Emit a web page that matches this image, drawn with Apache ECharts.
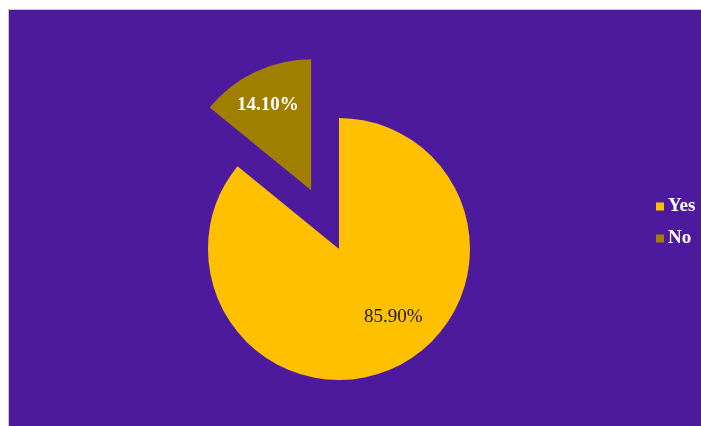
<!DOCTYPE html>
<html>
<head>
<meta charset="utf-8">
<script src="https://cdn.jsdelivr.net/npm/echarts@6/dist/echarts.min.js"></script>
<style>
html,body{margin:0;padding:0;background:#fff;width:701px;height:426px;overflow:hidden;}
#wrap{position:absolute;left:8px;top:9px;width:693px;height:417px;background:#c9c4d6;}
#chart{position:absolute;left:1px;top:1px;width:692px;height:416px;}
</style>
</head>
<body>
<div id="wrap"><div id="chart"></div></div>
<script>
const categories = ['Yes', 'No'];
const values = [85.9, 14.1];
const colors = ['#FFC000', '#A07F00'];

const chart = echarts.init(document.getElementById('chart'), null, {renderer: 'canvas'});
const labelShift = [[25, 6], [-14, -23]];
chart.setOption({
  backgroundColor: '#4E1A9D',
  animation: false,
  legend: {
    orient: 'vertical',
    left: 642,
    top: 182,
    itemWidth: 8,
    itemHeight: 8,
    itemGap: 13,
    icon: 'rect',
    data: categories,
    textStyle: {color: '#ffffff', fontFamily: 'Liberation Serif', fontWeight: 'bold', fontSize: 19, padding: [0,0,0,-1]}
  },
  series: [{
    type: 'pie',
    center: [330, 239],
    radius: 131,
    startAngle: 90,
    clockwise: true,
    selectedMode: 'single',
    selectedOffset: 65,
    avoidLabelOverlap: false,
    label: {
      show: true,
      position: 'inside',
      fontFamily: 'Liberation Serif',
      fontSize: 19,
      formatter: p => p.value.toFixed(2) + '%'
    },
    labelLine: {show: false},
    labelLayout: function (p) {
      const s = labelShift[p.dataIndex];
      return {dx: s[0], dy: s[1]};
    },
    emphasis: {disabled: true},
    data: categories.map((c, i) => ({
      name: c,
      value: values[i],
      selected: i === 1,
      itemStyle: {color: colors[i]},
      label: i === 1 ? {color: '#ffffff', fontWeight: 'bold'} : {color: '#1a1a1a', fontWeight: 'normal'}
    }))
  }]
});
</script>
</body>
</html>
